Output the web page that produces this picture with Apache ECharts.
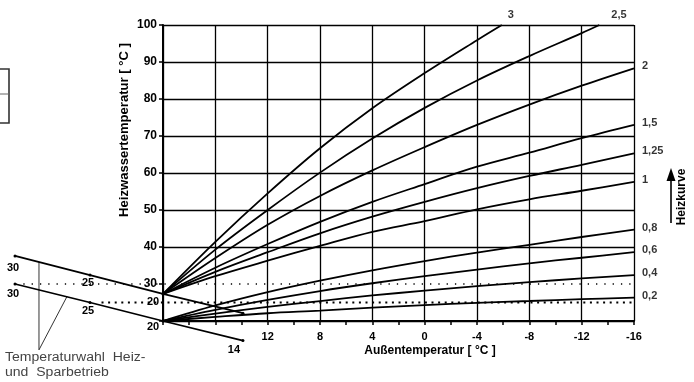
<!DOCTYPE html>
<html><head><meta charset="utf-8">
<script src="https://cdn.jsdelivr.net/npm/echarts@6/dist/echarts.min.js"></script>
<style>html,body{margin:0;padding:0;background:#fff}#c{width:694px;height:382px}</style>
</head><body><div id="c"></div>
<script>
// ---------- data ----------
const outsideTemps = [20, 16, 12, 8, 4, 0, -4, -8, -12, -16];
const curve3X   = [20, 16, 12, 8, 4, 0, -4, -5.9];
const curve3    = [27.3, 41.4, 54.5, 66.7, 77.5, 87.0, 95.9, 100];
const curve2_5X = [20, 16, 12, 8, 4, 0, -4, -8, -12, -13.35];
const curve2_5  = [27.3, 39.3, 50.0, 60.1, 69.3, 77.6, 85.0, 91.6, 97.8, 100];
const curve2    = [27.3, 37.0, 46.0, 53.8, 60.7, 67.0, 73.0, 78.5, 83.6, 88.3];
const curve1_5  = [27.3, 34.4, 40.8, 46.8, 52.2, 57.0, 61.7, 65.5, 69.4, 73.0];
const curve1_25 = [27.3, 33.3, 38.6, 43.7, 48.2, 52.2, 55.9, 59.2, 62.2, 65.3];
const curve1    = [27.3, 32.1, 36.3, 40.3, 44.1, 47.0, 50.2, 52.9, 55.2, 57.6];
const curve0_8  = [20, 24.2, 27.8, 30.9, 33.7, 36.2, 38.5, 40.6, 42.7, 44.7];
const curve0_6  = [20, 23.0, 25.7, 28.1, 30.2, 32.1, 33.9, 35.6, 37.1, 38.6];
const curve0_4  = [20, 22.0, 23.8, 25.4, 26.9, 28.2, 29.4, 30.5, 31.5, 32.4];
const curve0_2  = [20, 21.1, 22.1, 22.8, 23.6, 24.3, 24.9, 25.4, 25.9, 26.3];
const curveNames = ['3', '2,5', '2', '1,5', '1,25', '1', '0,8', '0,6', '0,4', '0,2'];

// room-temperature nomogram (same °C scale, extended beyond the plot)
const nomoUpperX = [31.31, 25.58, 20, 13.89];
const nomoUpperY = [37.6, 32.4, 27.3, 22.1];
const nomoUpperText = ['30', '25', '20', ''];
const nomoLowerX = [31.31, 25.58, 20, 13.89];
const nomoLowerY = [30, 25, 20, 14.7];
const nomoLowerText = ['30', '25', '20', '14'];
const dottedLevels = [30, 25];
const dottedStartX = [31.31, 24.7];
const pointerX = [29.48, 29.48, 27.34];
const pointerY = [35.9, 12.2, 26.6];

const xTickLabelsHidden = [20, 16];
const yTickLabelsHidden = [20];

// ---------- layout ----------
const W = 694, H = 382;
const G = { left: 163, right: 60, top: 25, bottom: 61 };
const X_MIN = -16, X_MAX = 20, Y_MIN = 20, Y_MAX = 100;
const pxX = (W - G.left - G.right) / (X_MAX - X_MIN);
const pxY = (H - G.top - G.bottom) / (Y_MAX - Y_MIN);
const FONT = '"Liberation Sans", Arial, sans-serif';

const curves = [
  [curve3X, curve3], [curve2_5X, curve2_5], [outsideTemps, curve2], [outsideTemps, curve1_5],
  [outsideTemps, curve1_25], [outsideTemps, curve1], [outsideTemps, curve0_8], [outsideTemps, curve0_6],
  [outsideTemps, curve0_4], [outsideTemps, curve0_2]
];
const pairs = (xs, ys) => xs.map((x, i) => [x, ys[i]]);

const series = [];
curves.forEach(([xs, ys], k) => {
  series.push({
    type: 'line', name: curveNames[k], xAxisIndex: 0, yAxisIndex: 0,
    data: pairs(xs, ys), symbol: 'none', smooth: 0.35, silent: true, z: 5,
    lineStyle: { color: '#000', width: 1.8 }
  });
});
// end labels of the curves
series.push({
  type: 'scatter', xAxisIndex: 0, yAxisIndex: 0, symbolSize: 0, silent: true, z: 6,
  data: curves.map(([xs, ys], k) => {
    const top = ys[ys.length - 1] >= Y_MAX;
    return {
      value: [xs[xs.length - 1], ys[ys.length - 1]],
      label: {
        show: true, formatter: curveNames[k], position: 'right',
        distance: top ? (k === 0 ? 6 : 12) : 8, offset: top ? [0, -10] : [0, -2],
        color: '#000', fontWeight: 'bold', fontSize: 11, fontFamily: FONT
      }
    };
  })
});

const upperOff = [[-2, 12], [-2, 8], [-10, 8], [0, 0]];
const lowerOff = [[-2, 10], [-2, 8], [-10, 6], [-9, 9]];
function nomo(xs, ys, texts, offs) {
  return {
    type: 'line', xAxisIndex: 1, yAxisIndex: 1, silent: true, z: 7, clip: false,
    symbol: 'circle', symbolSize: 3, itemStyle: { color: '#000' },
    lineStyle: { color: '#000', width: 1.8 },
    data: xs.map((x, i) => ({
      value: [x, ys[i]],
      label: {
        show: texts[i] !== '', formatter: texts[i], position: 'inside', offset: offs[i],
        color: '#000', fontWeight: 'bold', fontSize: 11, fontFamily: FONT
      }
    }))
  };
}
series.push(nomo(nomoUpperX, nomoUpperY, nomoUpperText, upperOff));
series.push(nomo(nomoLowerX, nomoLowerY, nomoLowerText, lowerOff));
dottedLevels.forEach((lv, i) => {
  series.push({
    type: 'line', xAxisIndex: 1, yAxisIndex: 1, silent: true, z: 4, clip: false, symbol: 'none',
    data: [[dottedStartX[i], lv], [X_MIN, lv]],
    lineStyle: i === 0 ? { color: '#000', width: 1.3, type: [1.3, 7] } : { color: '#000', width: 2, type: [2, 4.6] }
  });
});
series.push({
  type: 'line', xAxisIndex: 1, yAxisIndex: 1, silent: true, z: 4, clip: false, symbol: 'none',
  data: pairs(pointerX, pointerY), lineStyle: { color: '#333', width: 1 }
});

const ySplitColors = [];
for (let v = Y_MIN; v <= Y_MAX; v += 10) ySplitColors.push(v === 30 ? 'rgba(0,0,0,0)' : '#000');

const option = {
  animation: false,
  backgroundColor: '#fff',
  textStyle: { fontFamily: FONT },
  grid: [
    { left: G.left, right: G.right, top: G.top, bottom: G.bottom, containLabel: false, outerBoundsMode: 'none' },
    { left: 0, right: G.right, top: G.top, bottom: 0, containLabel: false, outerBoundsMode: 'none' }
  ],
  xAxis: [{
    type: 'value', gridIndex: 0, inverse: true, min: X_MIN, max: X_MAX, interval: 4,
    axisLine: { show: true, onZero: false, lineStyle: { color: '#000', width: 2 } },
    axisTick: { show: true, length: 4, lineStyle: { color: '#000', width: 1.5 } },
    minorTick: { show: true, splitNumber: 2, length: 4, lineStyle: { color: '#000', width: 1.5 } },
    splitLine: { show: true, lineStyle: { color: '#000', width: 1.3 } },
    axisLabel: {
      formatter: v => xTickLabelsHidden.includes(v) ? '' : String(v), margin: 10,
      color: '#000', fontWeight: 'bold', fontSize: 11, fontFamily: FONT
    }
  }, {
    type: 'value', gridIndex: 1, inverse: true, min: X_MIN, max: X_MAX + G.left / pxX, show: false
  }],
  yAxis: [{
    type: 'value', gridIndex: 0, min: Y_MIN, max: Y_MAX, interval: 10,
    axisLine: { show: true, onZero: false, lineStyle: { color: '#000', width: 2 } },
    axisTick: { show: true, length: 4, lineStyle: { color: '#000', width: 1.5 } },
    splitLine: { show: true, lineStyle: { color: ySplitColors, width: 1.3 } },
    axisLabel: {
      formatter: v => yTickLabelsHidden.includes(v) ? '' : String(v), margin: 6,
      color: '#000', fontWeight: 'bold', fontSize: 12, fontFamily: FONT
    }
  }, {
    type: 'value', gridIndex: 1, min: Y_MAX - (H - G.top) / pxY, max: Y_MAX, show: false
  }],
  series: series,
  graphic: [
    { type: 'polyline', shape: { points: [[-2, 69], [9, 69], [9, 123], [-2, 123]] }, style: { stroke: '#333', lineWidth: 1.6, fill: null } },
    { type: 'line', shape: { x1: 0, y1: 94, x2: 9, y2: 94 }, style: { stroke: '#666', lineWidth: 1 } },
    { type: 'text', x: 5, y: 358, scaleX: 1.17, style: { text: 'Temperaturwahl  Heiz-', fill: '#444', font: '12px ' + FONT, textVerticalAlign: 'middle' } },
    { type: 'text', x: 5, y: 373, scaleX: 1.17, style: { text: 'und  Sparbetrieb', fill: '#444', font: '12px ' + FONT, textVerticalAlign: 'middle' } },
    { type: 'text', x: 430, y: 351, style: { text: 'Außentemperatur [ °C ]', fill: '#000', font: 'bold 12px ' + FONT, textAlign: 'center', textVerticalAlign: 'middle' } },
    { type: 'text', x: 125, y: 130, rotation: Math.PI / 2, scaleX: 1.09, style: { text: 'Heizwassertemperatur [ °C ]', fill: '#000', font: 'bold 12px ' + FONT, textAlign: 'center', textVerticalAlign: 'middle' } },
    { type: 'text', x: 682, y: 197, rotation: Math.PI / 2, style: { text: 'Heizkurve', fill: '#000', font: 'bold 12px ' + FONT, textAlign: 'center', textVerticalAlign: 'middle' } },
    { type: 'line', shape: { x1: 671, y1: 223, x2: 671, y2: 178 }, style: { stroke: '#000', lineWidth: 1.6 } },
    { type: 'polygon', shape: { points: [[666.5, 181], [675.5, 181], [671, 168]] }, style: { fill: '#000' } }
  ]
};
const chart = echarts.init(document.getElementById('c'), null, { renderer: 'canvas', width: W, height: H });
chart.setOption(option);
</script></body></html>
